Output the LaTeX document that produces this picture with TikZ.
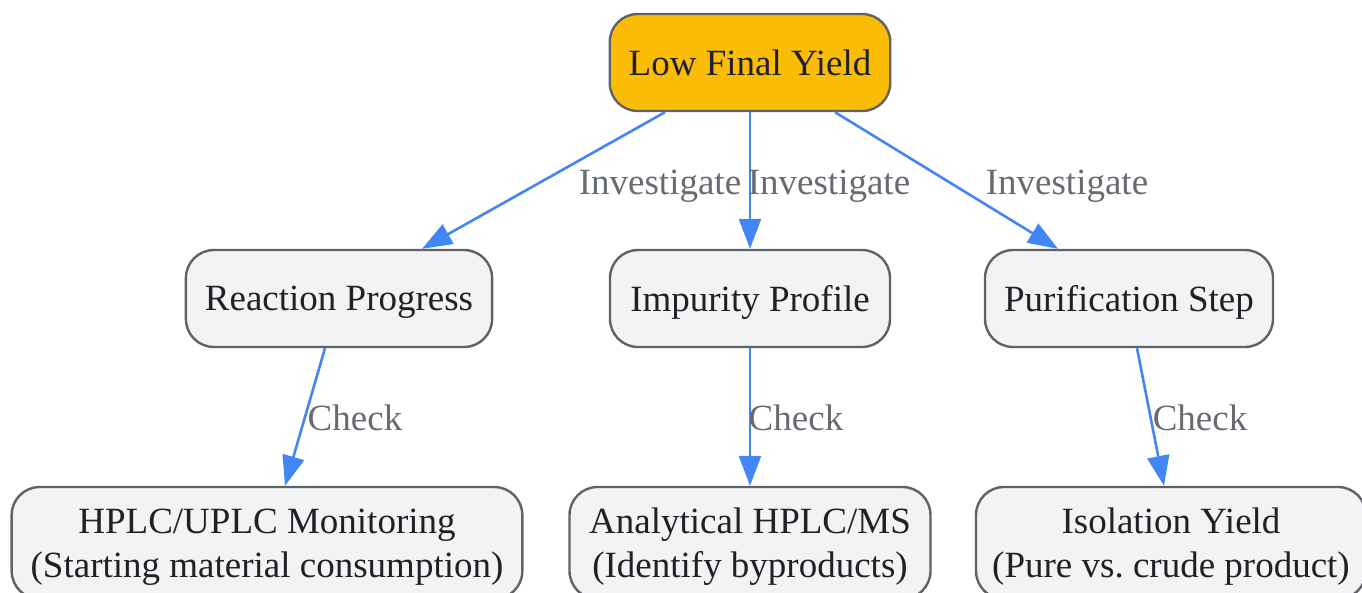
\documentclass[tikz,border=0pt]{standalone}
\usepackage{fontspec}
\setmainfont{Liberation Serif}
\usetikzlibrary{arrows.meta, positioning}
\definecolor{flowblue}{HTML}{4285F4}
\definecolor{flowamber}{HTML}{FBBC05}
\definecolor{flowgray}{HTML}{5F6368}
\definecolor{flowlight}{HTML}{F1F3F4}
\definecolor{flowtext}{HTML}{202124}
\definecolor{flowlabel}{HTML}{666B72}

\begin{document}
\begin{tikzpicture}[
  x=1pt, y=-1pt,
  every node/.style={font=\fontsize{37}{44}\selectfont},
  stepbox/.style={rectangle, rounded corners=28pt, draw=flowgray, fill=#1, line width=2.4pt, text=flowtext, align=center, minimum height=97pt, inner xsep=19pt, inner ysep=6pt, text depth=0pt},
  stepbox/.default=flowlight,
  flowarrow/.style={-{Triangle[length=30pt, width=22pt]}, flowblue, line width=2.6pt},
  edgelabel/.style={text=flowlabel, inner sep=0pt, anchor=base},
]
\useasboundingbox (0,0) rectangle (1362,592);

% Problem at the top
\node[stepbox=flowamber, minimum width=280pt] (yield) at (750, 62.5) {Low Final Yield};

% What to investigate
\node[stepbox, minimum width=306pt] (reaction) at (339, 298.5) {Reaction Progress};
\node[stepbox, minimum width=280pt] (impurity) at (750, 298.5) {Impurity Profile};
\node[stepbox, minimum width=288pt] (purif) at (1129, 298.5) {Purification Step};

% What to check
\node[stepbox, minimum width=510pt, minimum height=112pt] (hplc) at (267, 543) {HPLC/UPLC Monitoring\\(Starting material consumption)};
\node[stepbox, minimum width=361pt, minimum height=112pt] (analyt) at (750, 543) {Analytical HPLC/MS\\(Identify byproducts)};
\node[stepbox, minimum width=390pt, minimum height=112pt, inner xsep=15pt] (isol) at (1171, 543) {Isolation Yield\\(Pure vs.\ crude product)};

% Investigate arrows
\draw[flowarrow] ([xshift=-85pt]yield.south) -- ([xshift=83pt]reaction.north);
\draw[flowarrow] (yield.south) -- (impurity.north);
\draw[flowarrow] ([xshift=85pt]yield.south) -- ([xshift=-71pt]purif.north);

\node[edgelabel] (inv1) at (660, 194) {Investigate};
\node[edgelabel] (inv2) at (829, 194) {Investigate};
\node[edgelabel] (inv3) at (1067, 194) {Investigate};

% Check arrows
\draw[flowarrow] ([xshift=-14pt]reaction.south) -- ([xshift=18pt]hplc.north);
\draw[flowarrow] (impurity.south) -- (analyt.north);
\draw[flowarrow] ([xshift=8pt]purif.south) -- ([xshift=-7pt]isol.north);

\node[edgelabel] (chk1) at (355, 430) {Check};
\node[edgelabel] (chk2) at (796, 430) {Check};
\node[edgelabel] (chk3) at (1200, 430) {Check};

\end{tikzpicture}
\end{document}
